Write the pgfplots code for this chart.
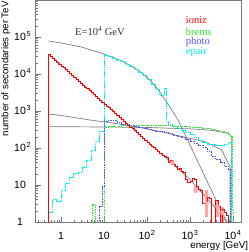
\documentclass[border=0pt]{standalone}
\usepackage{fontspec}
\setmainfont{Liberation Serif}
\setsansfont{Liberation Sans}
\usepackage{pgfplots}
\pgfplotsset{compat=1.18}
\definecolor{thgray}{RGB}{125,125,125}
\definecolor{framegray}{RGB}{120,120,120}
\definecolor{mgreen}{RGB}{40,230,40}
\definecolor{mblue}{RGB}{80,80,255}
\definecolor{mcyan}{RGB}{0,240,240}
\begin{document}
\begin{tikzpicture}
\begin{axis}[
  scale only axis, width=205.6pt, height=222pt,
  xmode=log, ymode=log,
  xmin=0.258, xmax=15600, ymin=1, ymax=1e6,
  axis line style={framegray, line width=0.6pt},
  tick style={framegray, line width=0.5pt},
  tick align=inside, tick pos=left,
  major tick length=5pt, minor tick length=2.5pt,
  xtick={1,10,100,1000,10000},
  xticklabels={1,10,10\kern0.6pt\textsuperscript{2},10\kern0.6pt\textsuperscript{3},10\kern0.6pt\textsuperscript{4}},
  minor xtick={0.3,0.4,0.5,0.6,0.7,0.8,0.9,2,3,4,5,6,7,8,9,20,30,40,50,60,70,80,90,200,300,400,500,600,700,800,900,2000,3000,4000,5000,6000,7000,8000,9000},
  ytick={1,10,100,1000,10000,100000,1000000},
  yticklabels={\makebox[11.7pt]{1},10,10\kern0.8pt\textsuperscript{2},10\kern0.8pt\textsuperscript{3},10\kern0.8pt\textsuperscript{4},10\kern0.8pt\textsuperscript{5},},
  minor ytick={2,3,4,5,6,7,8,9,20,30,40,50,60,70,80,90,200,300,400,500,600,700,800,900,2000,3000,4000,5000,6000,7000,8000,9000,20000,30000,40000,50000,60000,70000,80000,90000,200000,300000,400000,500000,600000,700000,800000,900000},
  ticklabel style={font=\sffamily\fontsize{10.5}{12}\selectfont, inner sep=0pt},
  xticklabel style={anchor=base, yshift=-17.8pt},
  yticklabel style={anchor=base west, xshift=-21.7pt, yshift=-3.8pt},
  xlabel={energy [GeV]},
  xlabel style={font=\sffamily\fontsize{9.8}{11}\selectfont, at={(axis description cs:1.034,-0.1194)}, anchor=base east, inner sep=0pt},
  ylabel={number of secondaries per TeV},
  ylabel style={font=\sffamily\fontsize{9.7}{11}\selectfont, at={(axis description cs:-0.1323,0.995)}, anchor=base east, inner sep=0pt, rotate=0},
]
% theory curves (gray)
\addplot[thgray, line width=0.7pt] coordinates {
(0.507,78000) (1,69180) (3.0,53700) (8.85,36300) (15.85,28200) (29.2,20900) (50.1,14800) (85.1,9550) (125.9,6310) (173.8,4070) (295.1,1660) (524.8,571) (1000,120) (1862,26) (3499,5.57) (7129,1) (7943,0.76)};
\addplot[thgray, line width=0.7pt] coordinates {
(0.519,830) (1,760) (4.68,571) (10,510) (14.45,483) (31.6,414) (100,330) (263,260) (794,194) (2239,148) (3548,113) (5445,88) (6516,58) (7413,43) (8511,31) (8610,0.5)};
\addplot[thgray, line width=0.7pt] coordinates {
(0.519,377) (10,370) (100,360) (263,345) (1000,330) (3162,300) (7762,250) (9333,202) (9333,0.5)};
\addplot[thgray, line width=0.7pt] coordinates {
(0.519,34390) (1,17490) (3,5641) (10,1632) (30,526) (100,152) (300,49.1) (1000,14.2) (2000,5.7) (3000,3.42) (5000,1.69) (7000,1.04) (8000,0.87)};
% error boxes of ioniz
\addplot[red!35, only marks, mark=none, error bars/.cd, y dir=both, y explicit, error mark=none, error bar style={line width=3pt, red!35}]
 table[x=x, y=y, y error plus=ep, y error minus=em] {
x y ep em
390 40 8 6
1350 7.5 2.2 1.5
2420 3.2 4.1 1.8
4370 2.6 1.3 1.2
5600 1.8 0.8 0.8
};
% epair MC
\addplot[mcyan, dash pattern=on 1.6pt off 0.6pt, line width=0.8pt, const plot mark left] coordinates {
(0.4,0.1) (0.5012,1.8) (0.6310,4) (0.7943,3.5) (1,7) (1.259,11) (1.585,16) (1.995,20) (2.512,22) (3.162,30) (3.981,45) (5.012,85) (6.310,150) (7.943,280)
(10,32700) (12.59,29650) (15.85,26640) (19.95,23800) (25.12,21260) (31.62,18450) (39.81,15920) (50.12,13450) (63.10,11120) (79.43,9100) (100,7130) (125.9,5400) (158.5,3920) (199.5,2650)
(251.2,4200) (281.8,520) (316.2,440) (398.1,380) (501.2,340) (631.0,300) (794.3,265) (1000,230) (1259,190) (1585,160) (1995,140) (2512,128) (3162,125) (3981,120) (5012,118) (6310,125) (7943,140) (9333,0.1) (12000,0.1)};
% brems MC
\addplot[mgreen, dash pattern=on 0.9pt off 0.9pt, line width=0.9pt, const plot mark left] coordinates {
(0.4,0.1) (5.495,2.9) (6.457,0.1) (10,360) (12.59,380) (15.85,390) (19.95,385) (25.12,395) (31.62,400) (39.81,390) (50.12,400) (63.10,405) (79.43,395) (100,400) (125.9,410) (158.5,400) (199.5,405) (251.2,400) (316.2,395) (398.1,390) (501.2,385) (631.0,380) (794.3,375) (1000,370) (1259,360) (1585,350) (1995,340) (2512,330) (3162,310) (3981,295) (5012,280) (6310,260) (7943,230) (8913,200) (9840,2.1) (10000,0.1) (12000,0.1)};
% photo MC
\addplot[mblue, dash pattern=on 1.6pt off 1pt, line width=0.6pt, const plot mark left] coordinates {
(0.4,0.1) (7.943,2.6) (8.913,9) (10,540) (12.59,570) (15.85,560) (19.95,500) (25.12,450) (31.62,430) (39.81,400) (50.12,380) (63.10,360) (79.43,340) (100,320) (125.9,305) (158.5,290) (199.5,280) (251.2,265) (316.2,245) (398.1,225) (501.2,205) (631.0,190) (794.3,170) (1000,150) (1259,135) (1585,120) (1995,105) (2512,80) (3162,60) (3981,48) (5012,40) (6310,32) (7943,26) (8610,0.1) (12000,0.1)};
% ioniz MC
\addplot[red, line width=0.8pt, const plot mark left] coordinates {
(0.4,0.1) (0.5012,33590) (0.5623,29830) (0.6310,26490) (0.7079,23530) (0.7943,20900) (0.8913,18560) (1,16490) (1.122,14640) (1.259,13010) (1.413,11550) (1.585,10260) (1.778,9112) (1.995,8094) (2.239,7189) (2.512,6385) (2.818,5671) (3.162,5037) (3.548,4474) (3.981,3974) (4.467,3529) (5.012,3135) (5.623,2784) (6.310,2473) (7.079,2196) (7.943,1951) (8.913,1733)
(10,1539) (11.22,1367) (12.59,1214) (14.13,1078) (15.85,957) (17.78,850) (19.95,755) (22.39,671) (25.12,596) (28.18,529) (31.62,470) (35.48,418) (39.81,371) (44.67,329) (50.12,293) (56.23,260) (63.10,231) (70.79,205) (79.43,182) (89.13,162)
(100,144) (112.2,128) (125.9,113) (141.3,101) (158.5,89) (177.8,79) (199.5,71) (223.9,63) (251.2,60) (281.8,55) (316.2,42) (354.8,46) (398.1,36) (446.7,32) (501.2,26) (562.3,28) (631.0,24) (707.9,22) (794.3,14) (891.3,12)
(1000,12.5) (1122,15) (1259,14) (1413,9) (1585,7.5) (1778,7) (1995,3.2) (2239,3.2) (2512,4.5) (2818,4.4) (3162,0.1) (3548,0.1) (3981,3.8) (4467,2.6) (5012,0.1) (5623,2.2) (6310,1.8) (7079,1.5) (7943,0.1) (12000,0.1)};
% annotations
\node[anchor=base west, inner sep=0pt, font=\fontsize{10.5}{12}\selectfont, text=black!80] at (rel axis cs:0.1911,0.8423) {E=10\textsuperscript{4} GeV};
\node[anchor=base west, inner sep=0pt, font=\fontsize{10.5}{12}\selectfont, text=red] at (rel axis cs:0.7296,0.895) {ioniz};
\node[anchor=base west, inner sep=0pt, font=\fontsize{10.5}{12}\selectfont, text=mgreen] at (rel axis cs:0.7296,0.8423) {brems};
\node[anchor=base west, inner sep=0pt, font=\fontsize{10.5}{12}\selectfont, text=mblue] at (rel axis cs:0.7296,0.8005) {photo};
\node[anchor=base west, inner sep=0pt, font=\fontsize{10.5}{12}\selectfont, text=mcyan] at (rel axis cs:0.7296,0.7554) {epair};
\end{axis}
\pgfresetboundingbox
\useasboundingbox (-35.7pt,-30pt) rectangle (213.3pt,222pt);
\end{tikzpicture}
\end{document}
